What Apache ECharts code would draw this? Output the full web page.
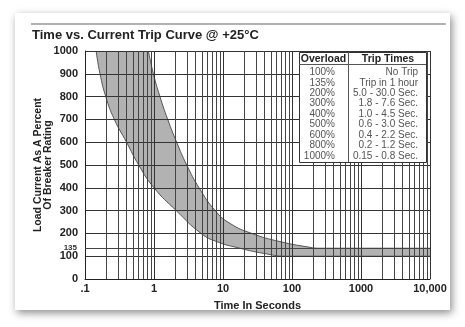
<!DOCTYPE html>
<html>
<head>
<meta charset="utf-8">
<script src="https://cdn.jsdelivr.net/npm/echarts@6/dist/echarts.min.js"></script>
<style>
html,body{margin:0;padding:0;background:#fff;}
#c{width:465px;height:327px;}
</style>
</head>
<body>
<div id="c"></div>
<script>
// ---- data ----
var lowerTime = [0.145, 0.165, 0.2, 0.266, 0.4, 0.6, 1.0, 2.1, 4.8, 8.1, 17.6, 38, 83, 10000];
var lowerLoad = [1000, 900, 800, 700, 600, 500, 400, 300, 200, 164, 135, 113, 100, 100];
var upperTime = [0.83, 0.98, 1.22, 1.58, 2.13, 2.98, 4.5, 7.7, 12.6, 26, 67, 182, 250, 10000];
var upperLoad = [1000, 900, 800, 700, 600, 500, 400, 300, 244, 200, 164, 139, 135, 135];
var xTickLabels = ['.1', '1', '10', '100', '1000', '10,000'];
var yTickLabels = ['0', '100', '200', '300', '400', '500', '600', '700', '800', '900', '1000'];
var extraYTick = 135;
var overload = ['100%', '135%', '200%', '300%', '400%', '500%', '600%', '800%', '1000%'];
var tripTimes = ['No Trip', 'Trip in 1 hour', '5.0 - 30.0 Sec.', '1.8 - 7.6 Sec.', '1.0 - 4.5 Sec.', '0.6 - 3.0 Sec.', '0.4 - 2.2 Sec.', '0.2 - 1.2 Sec.', '0.15 - 0.8 Sec.'];

var FONT = '"Liberation Sans", Arial, Helvetica, sans-serif';
var lowerData = lowerTime.map(function (t, i) { return [t, lowerLoad[i]]; });
var upperData = upperTime.map(function (t, i) { return [t, upperLoad[i]]; });

// minor log gridlines (2..9 within each decade)
var minorLines = [];
for (var k = -1; k <= 3; k++) {
  for (var m = 2; m <= 9; m++) {
    minorLines.push({ xAxis: +(m * Math.pow(10, k)).toPrecision(3), label: { show: false } });
  }
}
minorLines.push({
  yAxis: extraYTick,
  label: { show: true, position: 'start', formatter: String(extraYTick), fontSize: 8, fontWeight: 'bold', color: '#333', fontFamily: FONT, distance: 8 }
});

// table graphic
var tbl = { x: 299, y: 52, w: 127, h: 110, div: 348, headH: 12, rowH: 10.45 };
var graphics = [
  { type: 'rect', z: -100, shape: { x: 15, y: 13, width: 435, height: 297 }, style: { fill: '#fff', shadowColor: 'rgba(0,0,0,0.45)', shadowBlur: 8, shadowOffsetX: 2, shadowOffsetY: 3 } },
  { type: 'line', z: -90, shape: { x1: 31, y1: 24, x2: 446, y2: 24 }, style: { stroke: '#999', lineWidth: 1.5 } },
  { type: 'rect', z: 100, shape: { x: tbl.x + 0.5, y: tbl.y + 0.5, width: tbl.w, height: tbl.h }, style: { fill: '#fff', stroke: '#333', lineWidth: 1 } },
  { type: 'line', z: 101, shape: { x1: tbl.x, y1: tbl.y + tbl.headH + 0.5, x2: tbl.x + tbl.w, y2: tbl.y + tbl.headH + 0.5 }, style: { stroke: '#555', lineWidth: 1 } },
  { type: 'line', z: 101, shape: { x1: tbl.div + 0.5, y1: tbl.y, x2: tbl.div + 0.5, y2: tbl.y + tbl.h }, style: { stroke: '#555', lineWidth: 1 } },
  { type: 'text', z: 102, x: (tbl.x + tbl.div) / 2, y: tbl.y + tbl.headH / 2 + 1, style: { text: 'Overload', fill: '#222', fontFamily: FONT, fontWeight: 'bold', fontSize: 10.5, align: 'center', verticalAlign: 'middle' } },
  { type: 'text', z: 102, x: (tbl.div + tbl.x + tbl.w) / 2 + 1, y: tbl.y + tbl.headH / 2 + 1, style: { text: 'Trip Times', fill: '#222', fontFamily: FONT, fontWeight: 'bold', fontSize: 10.5, align: 'center', verticalAlign: 'middle' } }
];
overload.forEach(function (o, i) {
  var cy = tbl.y + tbl.headH + 8.3 + i * tbl.rowH;
  graphics.push({ type: 'text', z: 102, x: 335, y: cy, style: { text: o, fill: '#555', fontFamily: FONT, fontSize: 10, align: 'right', verticalAlign: 'middle' } });
  graphics.push({ type: 'text', z: 102, x: 418, y: cy, style: { text: tripTimes[i], fill: '#555', fontFamily: FONT, fontSize: 10, align: 'right', verticalAlign: 'middle' } });
});

var chart = echarts.init(document.getElementById('c'), null, { renderer: 'canvas' });
chart.setOption({
  animation: false,
  backgroundColor: '#fff',
  title: {
    text: 'Time vs. Current Trip Curve @ +25°C',
    left: 27, top: 24,
    textStyle: { fontFamily: FONT, fontWeight: 'bold', fontSize: 13, color: '#222' }
  },
  grid: { left: 85, top: 51, right: 35, bottom: 48 },
  xAxis: {
    type: 'log', logBase: 10, min: 0.1, max: 10000, z: 3,
    name: 'Time In Seconds', nameLocation: 'middle', nameGap: 21, nameMoveOverlap: false,
    nameTextStyle: { fontFamily: FONT, fontWeight: 'bold', fontSize: 11, color: '#222' },
    axisLine: { lineStyle: { color: '#222', width: 1 } },
    axisTick: { show: false },
    axisLabel: {
      fontFamily: FONT, fontWeight: 'bold', fontSize: 11, color: '#222', margin: 4,
      formatter: function (v) { return xTickLabels[Math.round(Math.log10(v)) + 1]; }
    },
    splitLine: { show: true, lineStyle: { color: '#333', width: 1 } }
  },
  yAxis: {
    type: 'value', min: 0, max: 1000, interval: 100, z: 3,
    name: 'Load Current As A Percent\nOf Breaker Rating', nameLocation: 'middle', nameGap: 32, nameMoveOverlap: false,
    nameTextStyle: { fontFamily: FONT, fontWeight: 'bold', fontSize: 10.5, color: '#222', lineHeight: 10 },
    axisLine: { show: true, lineStyle: { color: '#222', width: 1 } },
    axisTick: { show: false },
    axisLabel: {
      fontFamily: FONT, fontWeight: 'bold', fontSize: 11, color: '#222', margin: 7,
      formatter: function (v) { return yTickLabels[Math.round(v / 100)]; }
    },
    splitLine: { show: true, lineStyle: { color: '#333', width: 1 } }
  },
  graphic: graphics,
  series: [
    {
      type: 'line', name: 'lower', data: lowerData, z: 2,
      smooth: 0.5, symbol: 'none',
      lineStyle: { color: '#555', width: 1 },
      areaStyle: { origin: 'end', color: '#b2b2b2', opacity: 1 },
      markLine: {
        silent: true, symbol: ['none', 'none'], z: 4, animation: false,
        lineStyle: { color: '#444', width: 1, type: 'solid' },
        label: { show: false },
        data: minorLines
      }
    },
    {
      type: 'line', name: 'upper', data: upperData, z: 2,
      smooth: 0.5, symbol: 'none',
      lineStyle: { color: '#555', width: 1 },
      areaStyle: { origin: 'end', color: '#fff', opacity: 1 }
    }
  ]
});
</script>
</body>
</html>
